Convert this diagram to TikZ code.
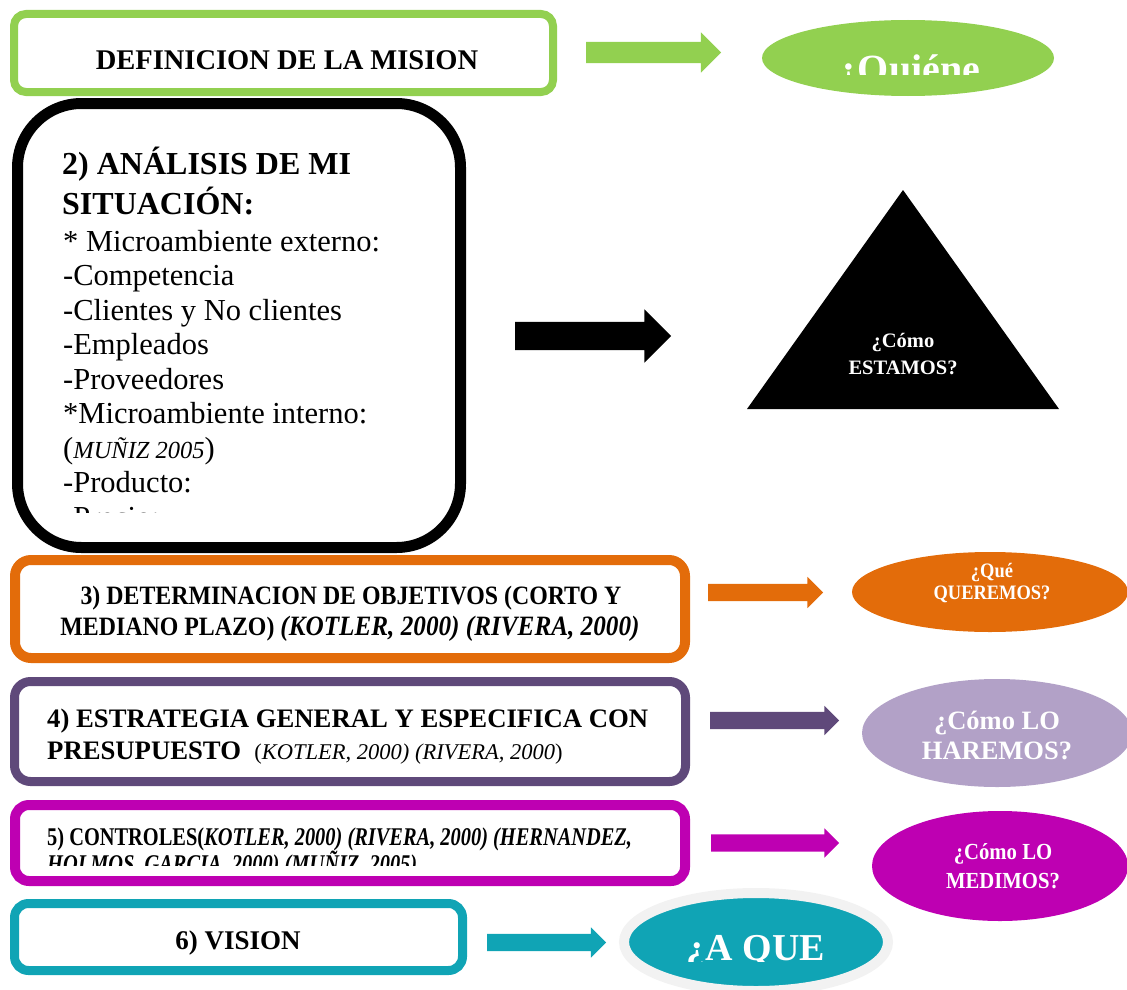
\documentclass[tikz,border=0pt]{standalone}
\usepackage{fontspec}
\setmainfont{Liberation Serif}
\newfontfamily\condfont[FakeStretch=0.8]{Liberation Serif}
\newfontfamily\semifont[FakeStretch=0.9]{Liberation Serif}
\usetikzlibrary{shapes.geometric,shapes.arrows}

\begin{document}
\begin{tikzpicture}[
        x=1pt, y=-1pt,
        caja/.style={draw, fill=white, rectangle, inner sep=0pt},
        flecha/.style={single arrow, draw=none, anchor=west, inner xsep=0pt, outer sep=0pt},
        globo/.style={ellipse, draw=none, inner sep=0pt},
        titulo/.style={inner sep=0pt, anchor=base},
        izq/.style={inner sep=0pt, anchor=base west},
        blanco/.style={inner sep=0pt, text=white, align=center},
        linea/.style={inner sep=0pt, anchor=base west, font=\fontsize{30.5}{34}\selectfont}
    ]

        \definecolor{verde}{RGB}{146, 208, 80}
        \definecolor{naranja}{RGB}{227, 108, 10}
        \definecolor{morado}{RGB}{95, 73, 122}
        \definecolor{lavanda}{RGB}{178, 161, 199}
        \definecolor{magenta}{RGB}{190, 0, 178}
        \definecolor{turquesa}{RGB}{16, 164, 181}
        \definecolor{gris}{RGB}{242, 242, 242}

        \useasboundingbox (0,0) rectangle (1127,990);

        % 1) mision
        \node[caja, draw=verde, line width=8pt, rounded corners=12pt, minimum width=539pt, minimum height=78pt] (mision) at (283.5,53) {};
        \node[titulo, font=\bfseries\fontsize{28.5}{34}\selectfont] (misionT) at (287,70) {DEFINICION DE LA MISION};
        \node[flecha, fill=verde, minimum height=135pt, inner ysep=10.5pt, single arrow head extend=9.5pt] (f1) at (586,52.5) {};
        \node[globo, fill=verde, minimum width=292pt, minimum height=76pt] (quienes) at (908,58) {};
        \begin{scope}
            \clip (800,30) rectangle (1020,75);
            \node[titulo, text=white, font=\bfseries\fontsize{40}{44}\selectfont] (quienesT) at (909,82) {¿Quiéne};
        \end{scope}

        % 2) analisis
        \node[caja, draw=black, line width=11pt, rounded corners=64pt, minimum width=443pt, minimum height=444pt] (analisis) at (239,325.5) {};
        \node[izq, font=\bfseries\fontsize{32}{40}\selectfont] (anaT1) at (62,174) {2) ANÁLISIS DE MI};
        \node[izq, font=\bfseries\fontsize{32}{40}\selectfont] (anaT2) at (62,214) {SITUACIÓN:};
        \begin{scope}
            \clip (25,110) rectangle (455,512);
            \node[linea] (l1) at (63,251) {* Microambiente externo:};
            \node[linea] (l2) at (63,285.5) {-Competencia};
            \node[linea] (l3) at (63,320) {-Clientes y No clientes};
            \node[linea] (l4) at (63,354.5) {-Empleados};
            \node[linea] (l5) at (63,389) {-Proveedores};
            \node[linea] (l6) at (63,423.5) {*Microambiente interno:};
            \node[linea] (l7) at (63,458) {(\textit{\fontsize{24.5}{26}\selectfont MUÑIZ 2005})};
            \node[linea] (l8) at (63,492.5) {-Producto:};
            \node[linea] (l9) at (63,527) {-Precio:};
        \end{scope}
        \node[flecha, fill=black, minimum height=156pt, inner ysep=14pt, single arrow head extend=12.5pt] (f2) at (515,336) {};
        \fill (903,190) -- (1059,409) -- (747,409) -- cycle;
        \node[blanco, font=\bfseries\fontsize{20.5}{27}\selectfont] (estamos) at (903,354) {¿Cómo\\ESTAMOS?};

        % 3) objetivos
        \node[caja, draw=naranja, line width=10pt, rounded corners=16pt, minimum width=670pt, minimum height=98pt] (objetivos) at (350,609) {};
        \node[titulo, font=\semifont\bfseries\fontsize{26.5}{31}\selectfont] (objT1) at (351,604) {3) DETERMINACION DE OBJETIVOS (CORTO Y};
        \node[titulo, font=\semifont\bfseries\fontsize{26.5}{31}\selectfont] (objT2) at (350,635) {MEDIANO PLAZO) {\fontsize{28}{31}\selectfont\textit{(KOTLER, 2000) (RIVERA, 2000)}}};
        \node[flecha, fill=naranja, minimum height=115pt, inner ysep=8.5pt, single arrow head extend=7pt] (f3) at (708,592.5) {};
        \node[globo, fill=naranja, minimum width=276pt, minimum height=80pt] (queremos) at (990,592) {};
        \node[blanco, font=\semifont\bfseries\fontsize{20.5}{22}\selectfont] (queremosT) at (992,583) {¿Qué\\QUEREMOS?};

        % 4) estrategia
        \node[caja, draw=morado, line width=9pt, rounded corners=16pt, minimum width=671pt, minimum height=100pt] (estrategia) at (350,731.5) {};
        \node[izq, font=\bfseries\fontsize{26.7}{32}\selectfont] (estT1) at (47,727) {4) ESTRATEGIA GENERAL Y ESPECIFICA CON};
        \node[izq, font=\bfseries\fontsize{26.7}{32}\selectfont] (estT2) at (47,759) {PRESUPUESTO \ {\mdseries\fontsize{22.5}{26}\selectfont(\textit{KOTLER, 2000) (RIVERA, 2000})}};
        \node[flecha, fill=morado, minimum height=129pt, inner ysep=8.5pt, single arrow head extend=6pt] (f4) at (710,720.5) {};
        \node[globo, fill=lavanda, minimum width=270pt, minimum height=108pt] (haremos) at (997,733) {};
        \node[blanco, font=\bfseries\fontsize{26.5}{30}\selectfont] (haremosT) at (997,735) {¿Cómo LO\\HAREMOS?};

        % 5) controles
        \node[caja, draw=magenta, line width=10pt, rounded corners=14pt, minimum width=670pt, minimum height=76pt] (controles) at (350,843) {};
        \begin{scope}
            \clip (20,810) rectangle (680,865);
            \node[izq, font=\condfont\bfseries\fontsize{25.5}{28}\selectfont] (conT1) at (47,845) {5) CONTROLES(\textit{KOTLER, 2000) (RIVERA, 2000) (HERNANDEZ,}};
            \node[izq, font=\condfont\bfseries\itshape\fontsize{25.5}{28}\selectfont] (conT2) at (47,872) {HOLMOS, GARCIA, 2000) (MUÑIZ, 2005)};
        \end{scope}
        \node[flecha, fill=magenta, minimum height=128pt, inner ysep=8.5pt, single arrow head extend=6pt] (f5) at (711,843) {};
        \node[globo, fill=magenta, minimum width=256pt, minimum height=110pt] (medimos) at (1000,866) {};
        \node[blanco, font=\semifont\bfseries\fontsize{23}{29}\selectfont] (medimosT) at (1003,866) {¿Cómo LO\\MEDIMOS?};

        % 6) vision
        \node[caja, draw=turquesa, line width=9pt, rounded corners=14pt, minimum width=448pt, minimum height=67pt] (vision) at (238.5,937) {};
        \node[titulo, font=\bfseries\fontsize{27}{32}\selectfont] (visionT) at (238,949) {6) VISION};
        \node[flecha, fill=turquesa, minimum height=119pt, inner ysep=8.5pt, single arrow head extend=6.5pt] (f6) at (487,942.5) {};
        \node[globo, draw=gris, line width=10pt, fill=turquesa, minimum width=264pt, minimum height=98pt] (aque) at (756,942) {};
        \begin{scope}
            \clip (650,900) rectangle (870,961);
            \node[titulo, text=white, font=\bfseries\fontsize{38}{42}\selectfont] (aqueT) at (756,960) {¿A QUE};
        \end{scope}
    \end{tikzpicture}
\end{document}
